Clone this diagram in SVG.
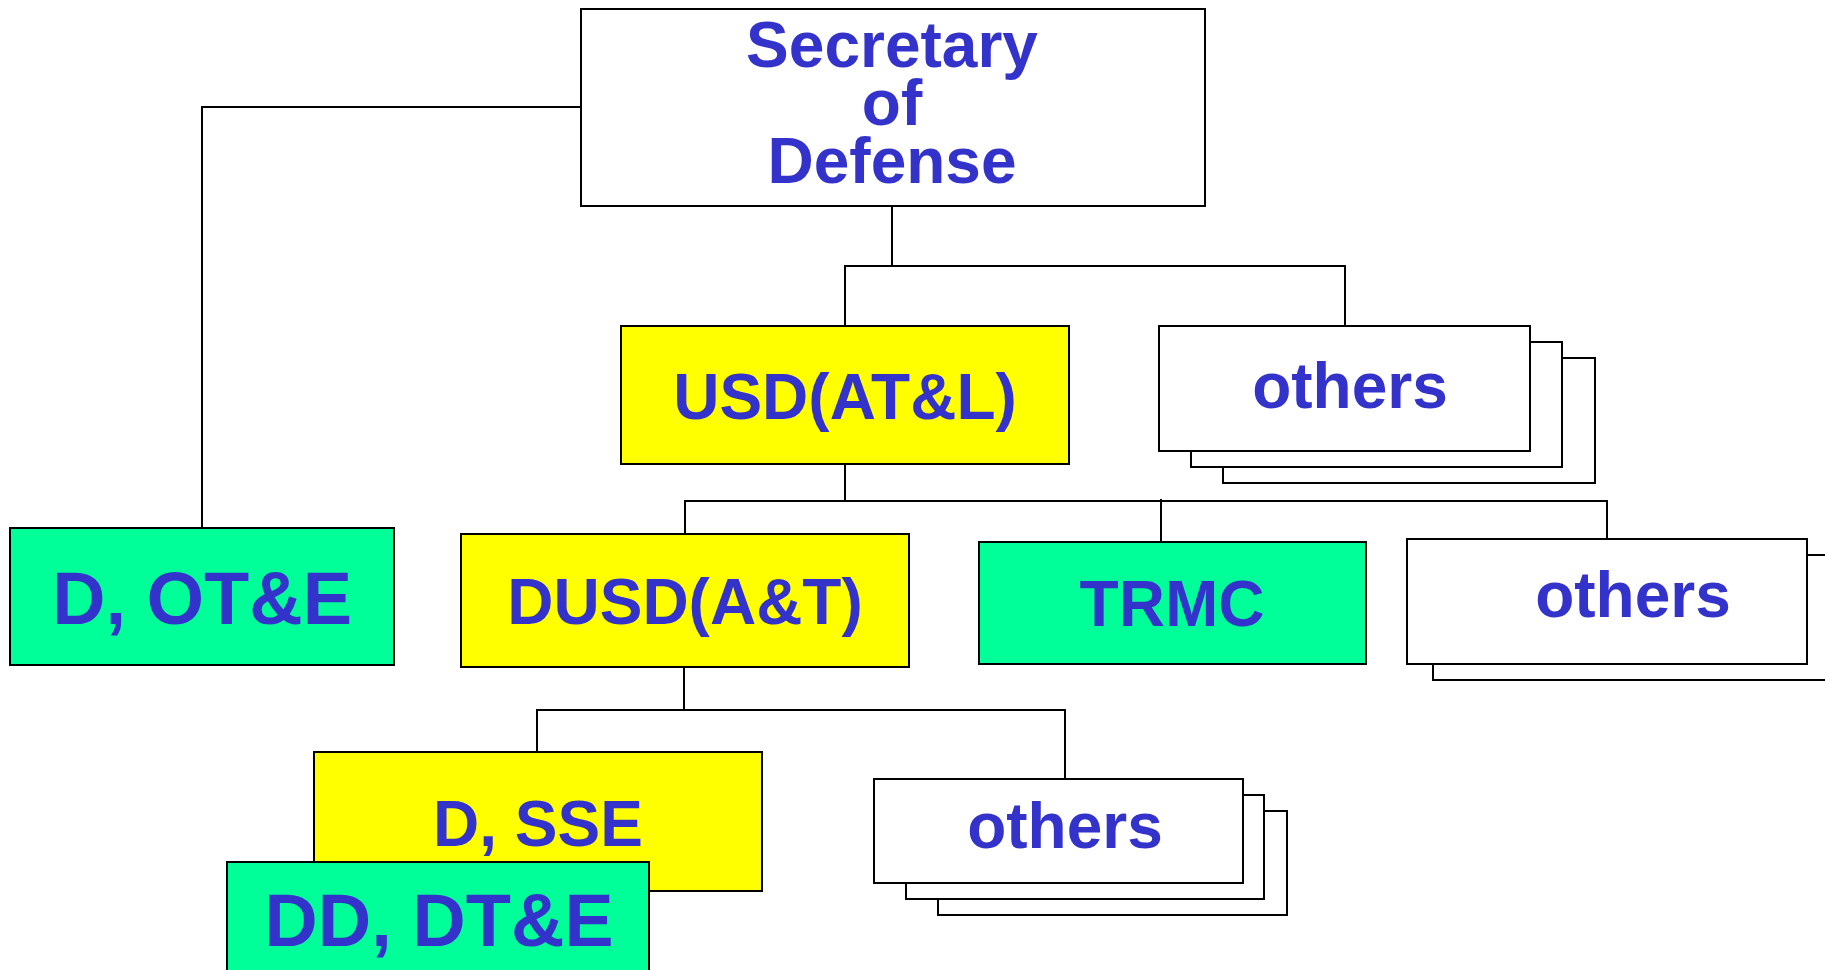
<svg xmlns="http://www.w3.org/2000/svg" width="1825" height="970" viewBox="0 0 1825 970">
<style>
.box{stroke:#000;stroke-width:2}
.w{fill:#fff}
.y{fill:#ffff00}
.g{fill:#00ff99}
.t{font-family:"Liberation Sans",Arial,sans-serif;font-weight:bold;fill:#3333cc;text-anchor:middle}
.s64{font-size:64px}
.s74{font-size:74px}
.c{fill:none;stroke:#000;stroke-width:2}
</style>
<rect width="1825" height="970" fill="#fff"/>
<g id="connectors">
<polyline class="c" points="581,107 202,107 202,528"/>
<polyline class="c" points="892,206 892,266"/>
<polyline class="c" points="845,326 845,266 1345,266 1345,326"/>
<polyline class="c" points="845,464 845,501"/>
<polyline class="c" points="685,534 685,501 1607,501 1607,539"/>
<polyline class="c" points="1161,499 1161,542"/>
<polyline class="c" points="684,667 684,710"/>
<polyline class="c" points="537,752 537,710 1065,710 1065,779"/>
</g>
<g id="secdef">
<rect class="box w" x="581" y="9" width="624" height="197"/>
<text class="t s64" x="892" y="67">Secretary</text>
<text class="t s64" x="892" y="125">of</text>
<text class="t s64" x="892" y="183">Defense</text>
</g>
<g id="usd">
<rect class="box y" x="621" y="326" width="448" height="138"/>
<text class="t s64" x="845" y="419">USD(AT&amp;L)</text>
</g>
<g id="others1">
<rect class="box w" x="1223" y="358" width="372" height="125"/>
<rect class="box w" x="1191" y="342" width="371" height="125"/>
<rect class="box w" x="1159" y="326" width="371" height="125"/>
<text class="t s64" x="1350" y="408">others</text>
</g>
<g id="dote">
<rect class="box g" x="10" y="528" width="384" height="137"/>
<text class="t s74" x="202" y="624">D, OT&amp;E</text>
</g>
<g id="dusd">
<rect class="box y" x="461" y="534" width="448" height="133"/>
<text class="t s64" x="685" y="624">DUSD(A&amp;T)</text>
</g>
<g id="trmc">
<rect class="box g" x="979" y="542" width="387" height="122"/>
<text class="t s64" x="1172" y="626">TRMC</text>
</g>
<g id="others2">
<rect class="box w" x="1433" y="555" width="420" height="125"/>
<rect class="box w" x="1407" y="539" width="400" height="125"/>
<text class="t s64" x="1633" y="617">others</text>
</g>
<g id="dsse">
<rect class="box y" x="314" y="752" width="448" height="139"/>
<text class="t s64" x="538" y="846">D, SSE</text>
</g>
<g id="dddte">
<rect class="box g" x="227" y="862" width="422" height="120"/>
<text class="t s74" x="439" y="946">DD, DT&amp;E</text>
</g>
<g id="others3">
<rect class="box w" x="938" y="811" width="349" height="104"/>
<rect class="box w" x="906" y="795" width="358" height="104"/>
<rect class="box w" x="874" y="779" width="369" height="104"/>
<text class="t s64" x="1065" y="848">others</text>
</g>
</svg>
